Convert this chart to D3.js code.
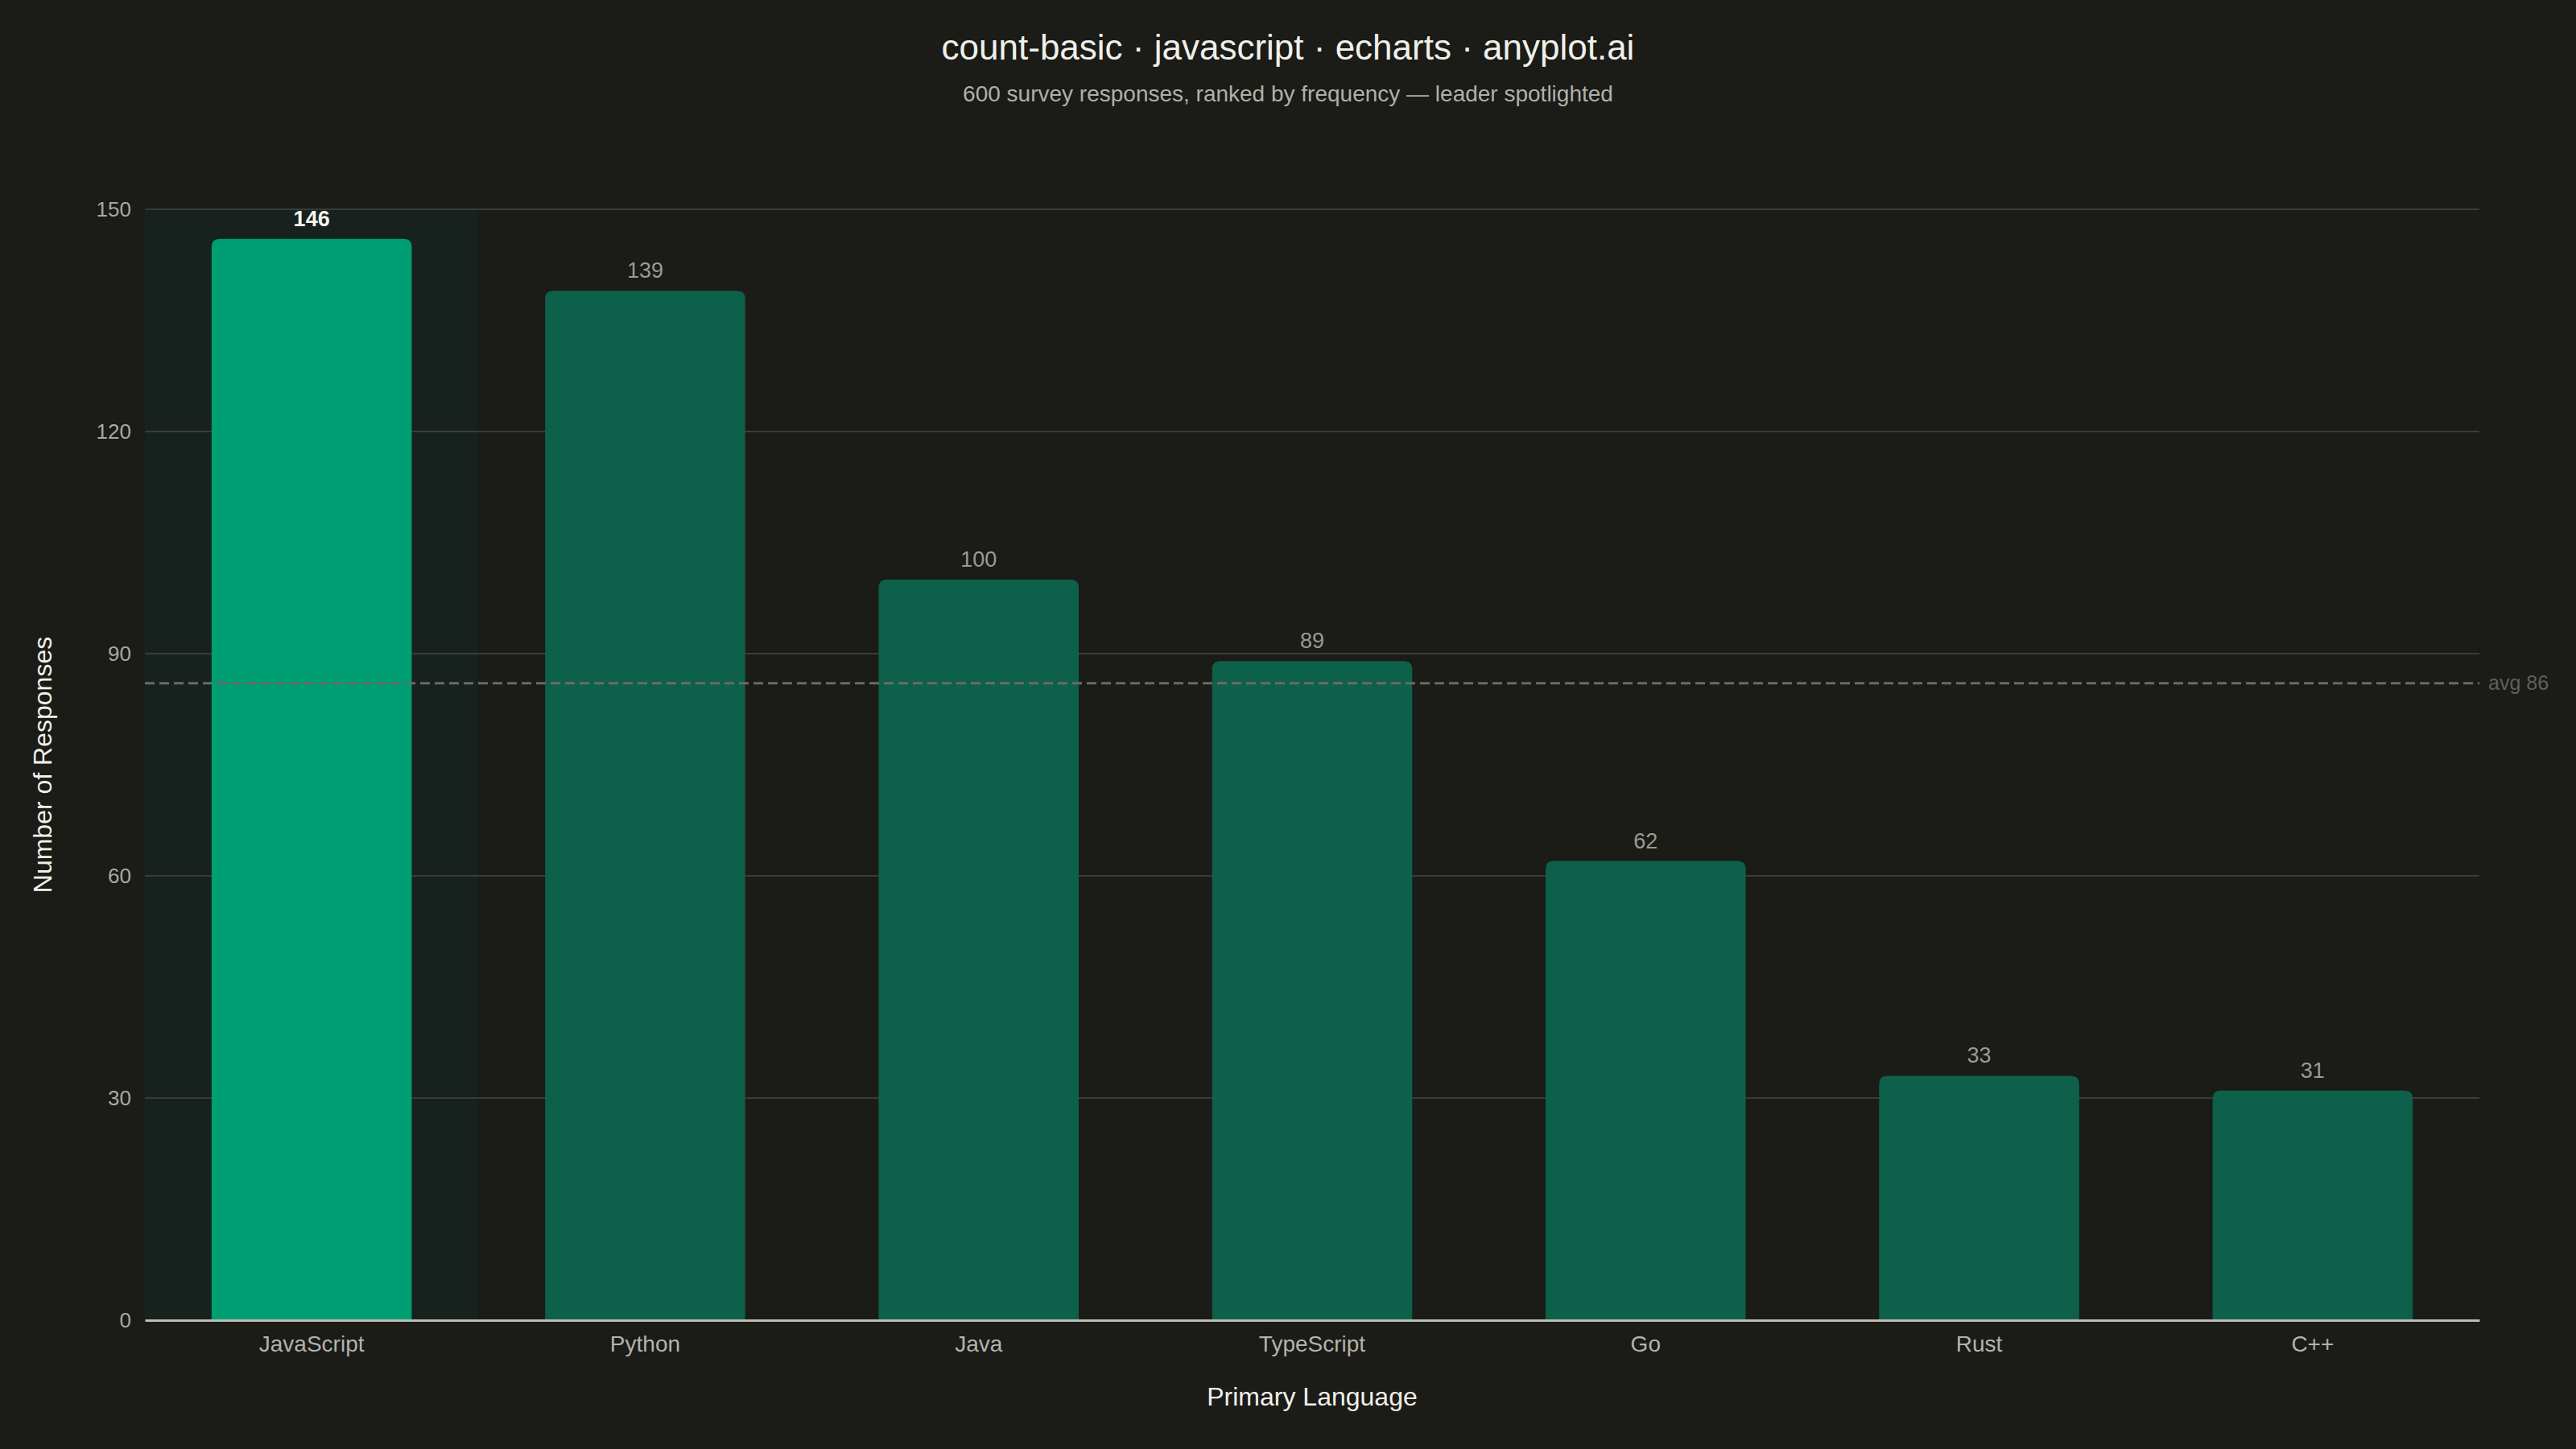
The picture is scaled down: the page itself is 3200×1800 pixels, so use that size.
<!DOCTYPE html>
<html><head><meta charset="utf-8">
<script src="https://cdn.jsdelivr.net/npm/d3@7"></script>
<style>
html,body{margin:0;padding:0;background:#1b1b17;}
svg{display:block;font-family:"Liberation Sans",Arial,sans-serif;}
</style></head>
<body><svg id="c" width="3200" height="1800"></svg>
<script>
const categories = ["JavaScript","Python","Java","TypeScript","Go","Rust","C++"];
const counts = [146,139,100,89,62,33,31];
const yTicks = [0,30,60,90,120,150];
const avgValue = 86;
const titleText = "count-basic · javascript · echarts · anyplot.ai";
const subtitleText = "600 survey responses, ranked by frequency — leader spotlighted";

const W=3200,H=1800;
const m={left:180,right:120,top:260,bottom:160};
const svg=d3.select("#c");
svg.append("rect").attr("width",W).attr("height",H).attr("fill","#1b1b17");

const x=d3.scaleBand().domain(categories).range([m.left,W-m.right]).paddingInner(0).paddingOuter(0);
const y=d3.scaleLinear().domain([0,150]).range([H-m.bottom,m.top]);
const leader = categories[counts.indexOf(d3.max(counts))];

// spotlight band
svg.append("rect").attr("x",x(leader)).attr("y",y(150)).attr("width",x.bandwidth())
  .attr("height",y(0)-y(150)).attr("fill","#17221f");

// grid
svg.append("g").selectAll("line").data(yTicks.filter(t=>t>0)).join("line")
  .attr("x1",m.left).attr("x2",W-m.right).attr("y1",d=>y(d)).attr("y2",d=>y(d))
  .attr("stroke","#3b3b37").attr("stroke-width",2);

// y axis ticks
const yAxis=d3.axisLeft(y).tickValues(yTicks).tickSize(0).tickPadding(17);
const ga=svg.append("g").attr("transform",`translate(${m.left},0)`).call(yAxis);
ga.select(".domain").remove();
ga.selectAll("text").attr("fill","#a9a9a2").attr("font-size",26).attr("font-family","Liberation Sans, Arial, sans-serif");

// bars
const bw=x.bandwidth()*0.6;
const r=10;
const barPath=(d,i)=>{
  const x0=x(categories[i])+(x.bandwidth()-bw)/2, x1=x0+bw, y0=y(d), yb=y(0);
  return `M${x0},${yb}V${y0+r}Q${x0},${y0} ${x0+r},${y0}H${x1-r}Q${x1},${y0} ${x1},${y0+r}V${yb}Z`;
};
svg.append("g").selectAll("path").data(counts).join("path")
  .attr("d",barPath)
  .attr("fill",(d,i)=>categories[i]===leader?"#009e73":"#0d614a");

// x axis
const xAxis=d3.axisBottom(x).tickSize(0).tickPadding(19);
const gx=svg.append("g").attr("transform",`translate(0,${y(0)})`).call(xAxis);
gx.select(".domain").attr("stroke","#bdbdb5").attr("stroke-width",3);
gx.selectAll("text").attr("fill","#b3b3ac").attr("font-size",28).attr("font-family","Liberation Sans, Arial, sans-serif");

// avg line
svg.append("line").attr("x1",m.left).attr("x2",W-m.right).attr("y1",y(avgValue)).attr("y2",y(avgValue))
  .attr("stroke","#6b6b66").attr("stroke-width",3).attr("stroke-dasharray","12,6");
svg.append("text").attr("x",W-m.right+11).attr("y",y(avgValue)+8).attr("fill","#5f5f5a")
  .attr("font-size",25).text("avg "+avgValue);

// value labels
svg.append("g").selectAll("text").data(counts).join("text")
  .attr("x",(d,i)=>x(categories[i])+x.bandwidth()/2).attr("y",d=>y(d)-16)
  .attr("text-anchor","middle")
  .attr("font-size",27)
  .attr("font-weight",(d,i)=>categories[i]===leader?"bold":"normal")
  .attr("fill",(d,i)=>categories[i]===leader?"#f5f5f0":"#9a9a94")
  .text(d=>d);

// titles
svg.append("text").attr("x",W/2).attr("y",74).attr("text-anchor","middle").attr("fill","#f0f0ea")
  .attr("font-size",44).text(titleText);
svg.append("text").attr("x",W/2).attr("y",126).attr("text-anchor","middle").attr("fill","#b0b0a9")
  .attr("font-size",28).text(subtitleText);
svg.append("text").attr("x",(m.left+W-m.right)/2).attr("y",1746).attr("text-anchor","middle").attr("fill","#f0f0ea")
  .attr("font-size",32).text("Primary Language");
svg.append("text").attr("transform",`translate(64,${(y(0)+y(150))/2}) rotate(-90)`).attr("text-anchor","middle").attr("fill","#f0f0ea")
  .attr("font-size",32).text("Number of Responses");
</script></body></html>
